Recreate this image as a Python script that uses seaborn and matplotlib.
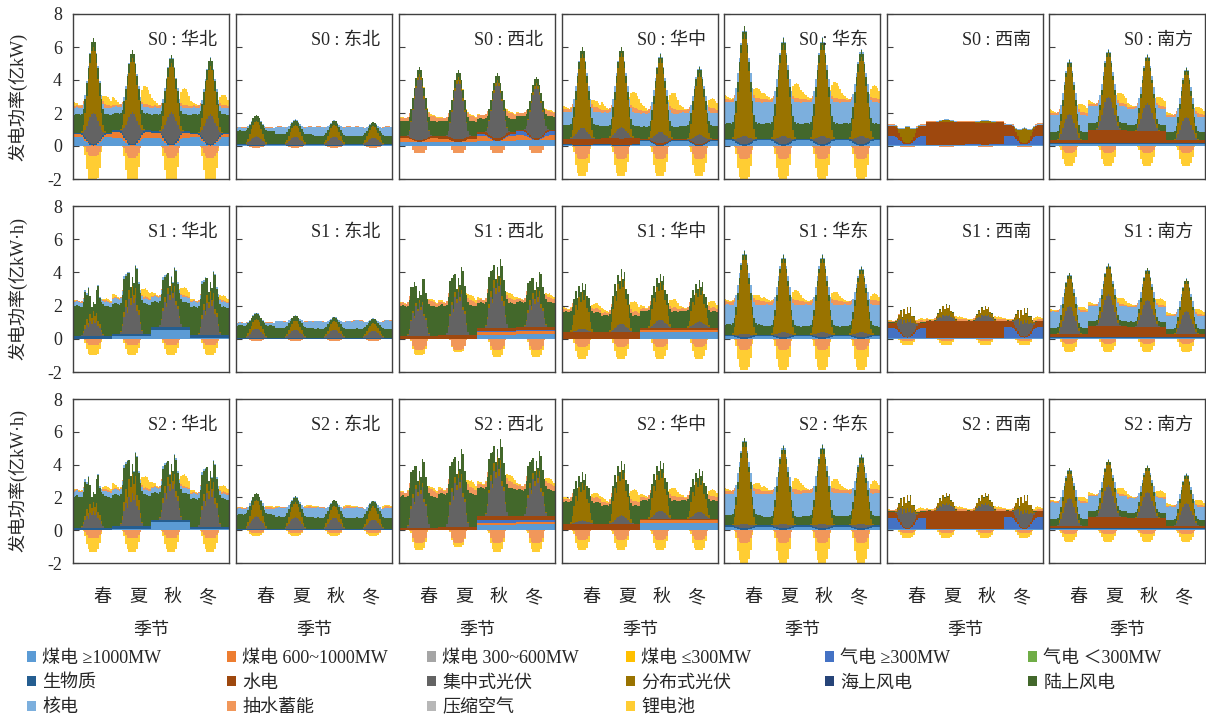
import matplotlib
matplotlib.use("Agg")
import matplotlib.pyplot as plt
from matplotlib.patches import Patch
import numpy as np
import pandas as pd
import seaborn as sns

# ---- labels -------------------------------------------------------------
SCENARIOS = ["S0", "S1", "S2"]
REGIONS = ["华北", "东北", "西北", "华中", "华东", "西南", "南方"]
SEASONS = ["春", "夏", "秋", "冬"]
YLABELS = ["发电功率(亿kW)", "发电功率(亿kW·h)", "发电功率(亿kW·h)"]

KEYS = ["coal1000", "coal600", "coal300", "coal_s", "gas300", "gas_s", "bio", "hydro",
        "pv_c", "pv_d", "wind_off", "wind_on", "nuclear", "phs", "caes", "li"]
LABELS = ["煤电 ≥1000MW", "煤电 600~1000MW", "煤电 300~600MW", "煤电 ≤300MW",
          "气电 ≥300MW", "气电 ＜300MW", "生物质", "水电", "集中式光伏", "分布式光伏",
          "海上风电", "陆上风电", "核电", "抽水蓄能", "压缩空气", "锂电池"]
COLORS = ["#5B9BD5", "#ED7D31", "#A5A5A5", "#FFC000", "#4472C4", "#70AD47",
          "#255E91", "#9E480E", "#636363", "#997300", "#264478", "#43682B",
          "#7CAFDD", "#F1975A", "#B7B7B7", "#FFCD33"]

# ---- typical-day hourly shapes (0..23 h) ----------------------------------
SHAPES = {
    "flat": [1, 1, 1, 1, 1, 1, 1, 1, 1, 1, 1, 1, 1, 1, 1, 1, 1, 1, 1, 1, 1, 1, 1, 1],
    "dip": [1, 1, 1, 1, 1, 0.95, 0.8, 0.6, 0.4, 0.22, 0.1, 0.05, 0.04, 0.05, 0.1, 0.22,
            0.4, 0.6, 0.8, 0.95, 1, 1, 1, 1],
    "solar": [0, 0, 0, 0, 0, 0.02, 0.1, 0.25, 0.45, 0.65, 0.82, 0.95, 1.0, 0.95, 0.82,
              0.65, 0.45, 0.25, 0.1, 0.02, 0, 0, 0, 0],
    "solar_j": [0, 0, 0, 0, 0, 0.05, 0.2, 0.45, 0.7, 0.55, 0.9, 0.75, 1.0, 0.8, 0.95,
                0.6, 0.5, 0.25, 0.08, 0, 0, 0, 0, 0],
    "wind": [1.0, 1.03, 1.05, 1.02, 1.0, 0.97, 0.9, 0.8, 0.7, 0.6, 0.53, 0.5, 0.48,
             0.5, 0.53, 0.6, 0.7, 0.8, 0.9, 0.97, 1.01, 1.02, 1.0, 0.98],
    "wind_j": [1.0, 1.02, 1.04, 1.0, 0.98, 0.95, 0.97, 1.1, 0.8, 1.15, 0.6, 0.35, 0.3,
               0.4, 0.75, 1.2, 0.85, 0.95, 1.0, 1.02, 1.03, 1.0, 0.98, 0.97],
    "peak": [0.7, 0.6, 0.55, 0.55, 0.6, 0.8, 0.9, 0.5, 0.1, 0, 0, 0, 0, 0, 0, 0, 0.1,
             0.5, 0.9, 1.0, 0.95, 0.9, 0.8, 0.75],
    "evening": [0.45, 0.35, 0.25, 0.15, 0.08, 0.03, 0, 0, 0, 0, 0, 0, 0, 0, 0, 0.05,
                0.2, 0.45, 0.75, 0.95, 1.0, 0.95, 0.8, 0.62],
    "charge": [0, 0, 0, 0, 0, 0, 0.05, 0.3, 0.65, 0.9, 1.0, 1.0, 1.0, 1.0, 1.0, 0.9,
               0.65, 0.3, 0.05, 0, 0, 0, 0, 0],
}

# ---- per panel: source -> [(shape, [spring, summer, autumn, winter])] -----
S0_HUABEI = {
    "coal1000": [("dip", [0.55, 0.5, 0.5, 0.55])],
    "coal600": [("dip", [0.15, 0.35, 0.3, 0.15])],
    "bio": [("flat", [0.1, 0.1, 0.1, 0.1])],
    "pv_c": [("solar", [1.9, 1.9, 1.9, 1.8])],
    "pv_d": [("solar", [4.0, 3.3, 3.0, 2.9])],
    "wind_on": [("wind", [1.1, 1.0, 1.0, 1.1])],
    "nuclear": [("dip", [0.4, 0.4, 0.4, 0.4])],
    "phs": [("peak", [0.2, 0.2, 0.2, 0.2]), ("charge", [-0.6, -0.7, -0.7, -0.7])],
    "li": [("evening", [0.5, 1.1, 1.0, 0.6]), ("charge", [-1.6, -1.6, -1.6, -1.6])],
}
S0_DONGBEI = {
    "coal1000": [("dip", [0.05, 0.05, 0.05, 0.05])],
    "bio": [("flat", [0.05, 0.05, 0.05, 0.05])],
    "pv_c": [("solar", [0.55, 0.5, 0.5, 0.45])],
    "pv_d": [("solar", [0.9, 0.75, 0.75, 0.7])],
    "wind_on": [("wind", [0.8, 0.6, 0.5, 0.5])],
    "nuclear": [("dip", [0.2, 0.45, 0.55, 0.55])],
    "phs": [("peak", [0.04, 0.04, 0.04, 0.04]), ("charge", [-0.1, -0.1, -0.1, -0.1])],
}
S0_XIBEI = {
    "coal1000": [("flat", [0.25, 0.25, 0.3, 0.35])],
    "coal600": [("dip", [0.25, 0.2, 0.3, 0.3])],
    "gas300": [("dip", [0, 0, 0.1, 0.25])],
    "hydro": [("flat", [0.1, 0.15, 0.15, 0.1])],
    "pv_c": [("solar", [3.8, 3.55, 3.35, 3.15])],
    "pv_d": [("solar", [0.2, 0.2, 0.2, 0.2])],
    "wind_on": [("wind", [0.9, 0.9, 0.8, 0.8])],
    "phs": [("peak", [0.3, 0.3, 0.35, 0.3]), ("charge", [-0.45, -0.45, -0.45, -0.45])],
    "li": [("evening", [0.1, 0.1, 0.1, 0.1])],
}
S0_HUAZHONG = {
    "coal1000": [("dip", [0.05, 0.05, 0.3, 0.3])],
    "bio": [("flat", [0.05, 0.05, 0.05, 0.05])],
    "hydro": [("flat", [0.35, 0.4, 0.1, 0.05])],
    "pv_c": [("solar", [0.7, 0.7, 0.7, 0.6])],
    "pv_d": [("solar", [4.5, 4.5, 4.4, 3.7])],
    "wind_on": [("wind", [0.8, 0.7, 0.7, 0.8])],
    "nuclear": [("dip", [0.8, 0.8, 0.8, 0.8])],
    "phs": [("peak", [0.3, 0.3, 0.3, 0.3]), ("charge", [-0.8, -0.8, -0.8, -0.8])],
    "li": [("evening", [0.4, 1.0, 1.0, 0.6]), ("charge", [-1.0, -1.0, -1.0, -1.0])],
}
S0_HUADONG = {
    "coal1000": [("dip", [0.35, 0.35, 0.35, 0.35])],
    "bio": [("flat", [0.1, 0.1, 0.1, 0.1])],
    "pv_c": [("solar", [0.5, 0.5, 0.5, 0.5])],
    "pv_d": [("solar", [6.2, 5.5, 5.5, 4.8])],
    "wind_on": [("wind", [0.9, 0.9, 0.9, 0.9])],
    "nuclear": [("dip", [1.3, 1.3, 1.3, 1.3])],
    "phs": [("peak", [0.25, 0.25, 0.25, 0.25]), ("charge", [-0.8, -0.8, -0.8, -0.8])],
    "li": [("evening", [0.6, 0.9, 1.0, 0.8]), ("charge", [-1.3, -1.3, -1.3, -1.3])],
}
S0_XINAN = {
    "coal1000": [("flat", [0.08, 0.08, 0.08, 0.08])],
    "gas300": [("dip", [0.5, 0, 0.05, 0.55])],
    "hydro": [("dip", [0.6, 0, 0, 0.6]), ("flat", [0.05, 1.35, 1.3, 0.05])],
    "pv_d": [("solar", [1.0, 0.15, 0.15, 0.9])],
    "nuclear": [("flat", [0.05, 0.05, 0.05, 0.05])],
    "phs": [("peak", [0.05, 0.05, 0.05, 0.05]), ("charge", [-0.08, -0.08, -0.08, -0.08])],
}
S0_NANFANG = {
    "coal1000": [("flat", [0.1, 0.1, 0.1, 0.1])],
    "bio": [("flat", [0.1, 0.1, 0.1, 0.1])],
    "hydro": [("flat", [0.15, 0.8, 0.7, 0.15])],
    "pv_c": [("solar", [1.6, 2.0, 1.7, 1.4])],
    "pv_d": [("solar", [3.05, 2.65, 2.77, 2.75])],
    "wind_on": [("wind", [0.5, 0.4, 0.35, 0.5])],
    "nuclear": [("dip", [1.0, 1.0, 1.0, 0.9])],
    "phs": [("peak", [0.2, 0.2, 0.2, 0.2]), ("charge", [-0.4, -0.4, -0.4, -0.4])],
    "li": [("evening", [0.5, 0.6, 0.5, 0.4]), ("charge", [-0.8, -0.8, -0.8, -0.8])],
}

S1_HUABEI = {
    "coal1000": [("flat", [0, 0.15, 0.55, 0.05])],
    "bio": [("flat", [0.15, 0.15, 0.15, 0.15])],
    "pv_c": [("solar_j", [1.0, 2.3, 2.2, 2.2])],
    "pv_d": [("solar_j", [0.5, 0.6, 0.4, 0.5])],
    "wind_on": [("wind_j", [1.8, 1.8, 1.5, 1.7])],
    "nuclear": [("dip", [0.25, 0.3, 0.3, 0.3])],
    "phs": [("peak", [0.1, 0.1, 0.1, 0.1]), ("charge", [-0.4, -0.4, -0.4, -0.4])],
    "li": [("evening", [0.1, 0.5, 0.5, 0.3]), ("charge", [-0.6, -0.6, -0.6, -0.6])],
}
S1_DONGBEI = {
    "bio": [("flat", [0.05, 0.05, 0.05, 0.05])],
    "pv_c": [("solar", [0.55, 0.5, 0.5, 0.45])],
    "pv_d": [("solar", [0.6, 0.55, 0.5, 0.45])],
    "wind_on": [("wind", [0.75, 0.6, 0.55, 0.55])],
    "nuclear": [("dip", [0.15, 0.4, 0.45, 0.5])],
    "phs": [("peak", [0.04, 0.04, 0.04, 0.04]), ("charge", [-0.12, -0.12, -0.12, -0.12])],
}
S1_XIBEI = {
    "coal1000": [("flat", [0, 0, 0.25, 0.3])],
    "coal600": [("flat", [0, 0, 0.15, 0.15])],
    "gas300": [("flat", [0, 0, 0.05, 0.1])],
    "hydro": [("flat", [0.15, 0.2, 0.2, 0.15])],
    "pv_c": [("solar_j", [2.0, 2.6, 2.7, 1.9])],
    "pv_d": [("solar_j", [0.2, 0.3, 0.5, 0.4])],
    "wind_on": [("wind_j", [1.8, 1.8, 1.5, 1.5])],
    "phs": [("peak", [0.3, 0.3, 0.3, 0.3]), ("charge", [-0.7, -0.7, -0.7, -0.7])],
    "li": [("evening", [0.1, 0.3, 0.3, 0.2]), ("charge", [-0.3, -0.1, -0.4, -0.4])],
}
S1_HUAZHONG = {
    "coal1000": [("flat", [0, 0, 0.4, 0.4])],
    "coal600": [("flat", [0, 0, 0.15, 0.15])],
    "hydro": [("flat", [0.4, 0.4, 0.1, 0.1])],
    "pv_c": [("solar", [0.2, 0.5, 0.5, 0.4])],
    "pv_d": [("solar_j", [2.2, 2.8, 2.3, 2.0])],
    "wind_on": [("wind", [1.2, 1.0, 1.0, 1.0])],
    "phs": [("peak", [0.25, 0.25, 0.25, 0.25]), ("charge", [-0.5, -0.5, -0.5, -0.5])],
    "li": [("evening", [0.3, 0.6, 0.5, 0.4]), ("charge", [-0.7, -0.7, -0.7, -0.7])],
}
S1_HUADONG = {
    "coal1000": [("dip", [0.15, 0.15, 0.15, 0.15])],
    "bio": [("flat", [0.1, 0.1, 0.1, 0.1])],
    "pv_c": [("solar", [0.2, 0.3, 0.3, 0.3])],
    "pv_d": [("solar", [4.7, 4.4, 4.4, 3.7])],
    "wind_on": [("wind", [0.6, 0.5, 0.5, 0.5])],
    "nuclear": [("dip", [1.2, 1.3, 1.3, 1.3])],
    "phs": [("peak", [0.3, 0.3, 0.3, 0.3]), ("charge", [-0.7, -0.7, -0.7, -0.7])],
    "li": [("evening", [0.3, 0.6, 0.5, 0.4]), ("charge", [-1.2, -1.2, -1.2, -1.2])],
}
S1_XINAN = {
    "coal1000": [("flat", [0.05, 0.05, 0.05, 0.05])],
    "gas300": [("dip", [0.6, 0, 0, 0.65])],
    "hydro": [("dip", [0.3, 0, 0, 0.3]), ("flat", [0.02, 1.0, 1.0, 0.05])],
    "pv_c": [("solar_j", [1.1, 0.4, 0.4, 1.0])],
    "pv_d": [("solar_j", [0.7, 0.6, 0.5, 0.7])],
    "wind_on": [("wind", [0.05, 0.05, 0.05, 0.05])],
    "phs": [("peak", [0.1, 0.1, 0.1, 0.1]), ("charge", [-0.15, -0.15, -0.15, -0.15])],
    "li": [("evening", [0.15, 0.15, 0.15, 0.15]), ("charge", [-0.25, -0.25, -0.25, -0.25])],
}
S1_NANFANG = {
    "coal1000": [("flat", [0.05, 0.05, 0.05, 0.05])],
    "bio": [("flat", [0.08, 0.08, 0.08, 0.08])],
    "hydro": [("flat", [0.15, 0.65, 0.6, 0.15])],
    "pv_c": [("solar", [1.7, 1.9, 1.6, 1.4])],
    "pv_d": [("solar", [1.8, 1.7, 1.77, 1.8])],
    "wind_on": [("wind", [0.35, 0.3, 0.3, 0.3])],
    "nuclear": [("dip", [1.0, 0.9, 0.9, 0.8])],
    "phs": [("peak", [0.1, 0.1, 0.1, 0.1]), ("charge", [-0.3, -0.3, -0.3, -0.3])],
    "li": [("evening", [0.2, 0.4, 0.4, 0.3]), ("charge", [-0.5, -0.5, -0.5, -0.5])],
}

S2_HUABEI = {
    "coal1000": [("flat", [0, 0.1, 0.5, 0.05])],
    "bio": [("flat", [0.15, 0.15, 0.15, 0.15])],
    "pv_c": [("solar_j", [1.0, 2.0, 2.3, 2.3])],
    "pv_d": [("solar_j", [0.6, 1.2, 0.6, 0.6])],
    "wind_on": [("wind_j", [1.9, 1.9, 1.6, 1.7])],
    "nuclear": [("dip", [0.3, 0.3, 0.3, 0.3])],
    "phs": [("peak", [0.12, 0.12, 0.12, 0.12]), ("charge", [-0.5, -0.5, -0.5, -0.5])],
    "li": [("evening", [0.2, 0.7, 0.7, 0.4]), ("charge", [-0.8, -0.8, -0.8, -0.8])],
}
S2_DONGBEI = {
    "bio": [("flat", [0.05, 0.05, 0.05, 0.05])],
    "pv_c": [("solar", [0.8, 0.75, 0.7, 0.6])],
    "pv_d": [("solar", [1.0, 0.9, 0.75, 0.8])],
    "wind_on": [("wind", [0.9, 0.75, 0.7, 0.7])],
    "nuclear": [("dip", [0.35, 0.55, 0.6, 0.6])],
    "phs": [("peak", [0.1, 0.1, 0.1, 0.1]), ("charge", [-0.2, -0.2, -0.2, -0.2])],
    "li": [("evening", [0.1, 0.1, 0.1, 0.1]), ("charge", [-0.15, -0.15, -0.15, -0.15])],
}
S2_XIBEI = {
    "coal1000": [("flat", [0, 0, 0.3, 0.35])],
    "coal600": [("flat", [0, 0, 0.15, 0.15])],
    "gas300": [("flat", [0, 0, 0.15, 0.15])],
    "hydro": [("flat", [0.15, 0.2, 0.25, 0.2])],
    "pv_c": [("solar_j", [2.6, 3.0, 3.1, 2.5])],
    "pv_d": [("solar_j", [0.3, 0.4, 0.5, 0.4])],
    "wind_on": [("wind_j", [1.9, 2.0, 1.7, 1.6])],
    "phs": [("peak", [0.4, 0.4, 0.4, 0.4]), ("charge", [-0.8, -0.8, -0.8, -0.8])],
    "li": [("evening", [0.15, 0.4, 0.4, 0.3]), ("charge", [-0.4, -0.2, -0.5, -0.5])],
}
S2_HUAZHONG = {
    "coal1000": [("flat", [0, 0, 0.45, 0.45])],
    "coal600": [("flat", [0, 0, 0.15, 0.15])],
    "hydro": [("flat", [0.4, 0.4, 0.1, 0.1])],
    "pv_c": [("solar", [0.2, 0.5, 0.5, 0.4])],
    "pv_d": [("solar_j", [2.3, 2.8, 2.5, 2.1])],
    "wind_on": [("wind", [1.3, 1.1, 1.1, 1.1])],
    "phs": [("peak", [0.3, 0.3, 0.3, 0.3]), ("charge", [-0.6, -0.6, -0.6, -0.6])],
    "li": [("evening", [0.3, 0.7, 0.5, 0.4]), ("charge", [-0.6, -0.6, -0.6, -0.6])],
}
S2_HUADONG = {
    "coal1000": [("dip", [0.2, 0.2, 0.2, 0.2])],
    "bio": [("flat", [0.1, 0.1, 0.1, 0.1])],
    "pv_c": [("solar", [0.3, 0.3, 0.3, 0.3])],
    "pv_d": [("solar", [4.9, 4.5, 4.5, 3.9])],
    "wind_on": [("wind", [0.6, 0.5, 0.55, 0.55])],
    "nuclear": [("dip", [1.3, 1.4, 1.4, 1.4])],
    "phs": [("peak", [0.3, 0.3, 0.3, 0.3]), ("charge", [-0.8, -0.8, -0.8, -0.8])],
    "li": [("evening", [0.4, 0.7, 0.6, 0.5]), ("charge", [-1.2, -1.2, -1.2, -1.2])],
}
S2_XINAN = {
    "coal1000": [("flat", [0.05, 0.05, 0.05, 0.05])],
    "gas300": [("dip", [0.7, 0, 0, 0.75])],
    "hydro": [("dip", [0.3, 0, 0, 0.3]), ("flat", [0.05, 1.1, 1.1, 0.05])],
    "pv_c": [("solar_j", [1.2, 0.5, 0.5, 1.1])],
    "pv_d": [("solar_j", [0.8, 0.6, 0.6, 0.9])],
    "wind_on": [("wind", [0.05, 0.05, 0.05, 0.05])],
    "phs": [("peak", [0.1, 0.1, 0.1, 0.1]), ("charge", [-0.2, -0.2, -0.2, -0.2])],
    "li": [("evening", [0.15, 0.15, 0.15, 0.15]), ("charge", [-0.3, -0.3, -0.3, -0.3])],
}
S2_NANFANG = {
    "coal1000": [("flat", [0.05, 0.05, 0.05, 0.05])],
    "bio": [("flat", [0.08, 0.08, 0.08, 0.08])],
    "hydro": [("flat", [0.15, 0.7, 0.6, 0.15])],
    "pv_c": [("solar", [1.7, 1.9, 1.6, 1.4])],
    "pv_d": [("solar", [1.6, 1.4, 1.45, 1.6])],
    "wind_on": [("wind", [0.4, 0.35, 0.3, 0.35])],
    "nuclear": [("dip", [1.0, 0.9, 0.9, 0.8])],
    "phs": [("peak", [0.1, 0.1, 0.1, 0.1]), ("charge", [-0.25, -0.25, -0.25, -0.25])],
    "li": [("evening", [0.25, 0.4, 0.4, 0.3]), ("charge", [-0.45, -0.45, -0.45, -0.45])],
}

PANELS = [
    [S0_HUABEI, S0_DONGBEI, S0_XIBEI, S0_HUAZHONG, S0_HUADONG, S0_XINAN, S0_NANFANG],
    [S1_HUABEI, S1_DONGBEI, S1_XIBEI, S1_HUAZHONG, S1_HUADONG, S1_XINAN, S1_NANFANG],
    [S2_HUABEI, S2_DONGBEI, S2_XIBEI, S2_HUAZHONG, S2_HUADONG, S2_XINAN, S2_NANFANG],
]


def panel_frame(panel):
    df = pd.DataFrame({"hour": np.arange(96)})
    for key in KEYS:
        vals = np.zeros(96)
        for shape, mags in panel.get(key, []):
            prof = np.array(SHAPES[shape], dtype=float)
            vals += np.concatenate([prof * m for m in mags])
        df[key] = vals
    return df


def draw_panel(ax, df, palette):
    x = np.append(df["hour"].to_numpy(), 96)
    pos_base = np.zeros(len(df))
    neg_base = np.zeros(len(df))
    for key, color in zip(KEYS, palette):
        vals = df[key].to_numpy()
        pos = np.clip(vals, 0, None)
        neg = np.clip(vals, None, 0)
        if pos.any():
            top = pos_base + pos
            ax.fill_between(x, np.append(pos_base, pos_base[-1]), np.append(top, top[-1]),
                            step="post", color=color, lw=0)
            pos_base = top
        if neg.any():
            bot = neg_base + neg
            ax.fill_between(x, np.append(neg_base, neg_base[-1]), np.append(bot, bot[-1]),
                            step="post", color=color, lw=0)
            neg_base = bot


def main():
    sns.set_theme(style="ticks")
    plt.rcParams["font.family"] = ["Liberation Serif", "Noto Sans CJK SC"]
    plt.rcParams["axes.unicode_minus"] = False
    palette = sns.color_palette(COLORS)

    W, H = 1206, 720
    fig = plt.figure(figsize=(W / 100, H / 100), dpi=100)

    col_left = [73, 236, 399, 562, 724, 887, 1049]
    row_top = [14, 206, 399]
    row_bot = [179, 372, 563]
    pw = 156
    season_pos = [18, 40, 61, 82.5]

    for r, scen in enumerate(SCENARIOS):
        for c, region in enumerate(REGIONS):
            ax = fig.add_axes([col_left[c] / W, 1 - row_bot[r] / H,
                               pw / W, (row_bot[r] - row_top[r]) / H])
            df = panel_frame(PANELS[r][c])
            draw_panel(ax, df, palette)
            ax.set_xlim(0, 96)
            ax.set_ylim(-2, 8)
            ax.set_yticks([-2, 0, 2, 4, 6, 8])
            ax.tick_params(axis="y", direction="in", length=4, width=0.8,
                           color="#404040", labelsize=13, pad=8)
            if c > 0:
                ax.set_yticklabels([])
            if r == 2:
                ax.set_xticks(season_pos)
                ax.set_xticklabels(SEASONS)
                ax.tick_params(axis="x", length=0, labelsize=13, pad=19)
            else:
                ax.set_xticks([])
            for sp in ax.spines.values():
                sp.set_color("#404040")
                sp.set_linewidth(1.0)
            ax.text(0.925, 0.84, f"{scen} : {region}", transform=ax.transAxes,
                    ha="right", va="center", fontsize=13, color="#262626")
            if r == 2:
                fig.text((col_left[c] + pw / 2) / W, 1 - 631 / H, "季节",
                         ha="center", va="center", fontsize=13)
        mid = (row_top[r] + row_bot[r]) / 2
        fig.text(18 / W, 1 - mid / H, YLABELS[r], rotation=90,
                 ha="center", va="center", fontsize=13)

    # legend laid out as 6 columns, filled row by row
    handles = [Patch(facecolor=col, edgecolor="none") for col in palette]
    col_x = [27, 227, 427, 626, 825, 1028]
    for c in range(6):
        idx = [i for i in (c, c + 6, c + 12) if i < len(LABELS)]
        fig.legend([handles[i] for i in idx], [LABELS[i] for i in idx],
                   loc="upper left", bbox_to_anchor=(col_x[c] / W, 1 - 650 / H),
                   frameon=False, fontsize=13, handlelength=0.5, handleheight=0.5,
                   handletextpad=0.35, labelspacing=0.42, borderpad=0, borderaxespad=0)

    fig.savefig("out.png", dpi=100)
    plt.close(fig)


if __name__ == "__main__":
    main()
